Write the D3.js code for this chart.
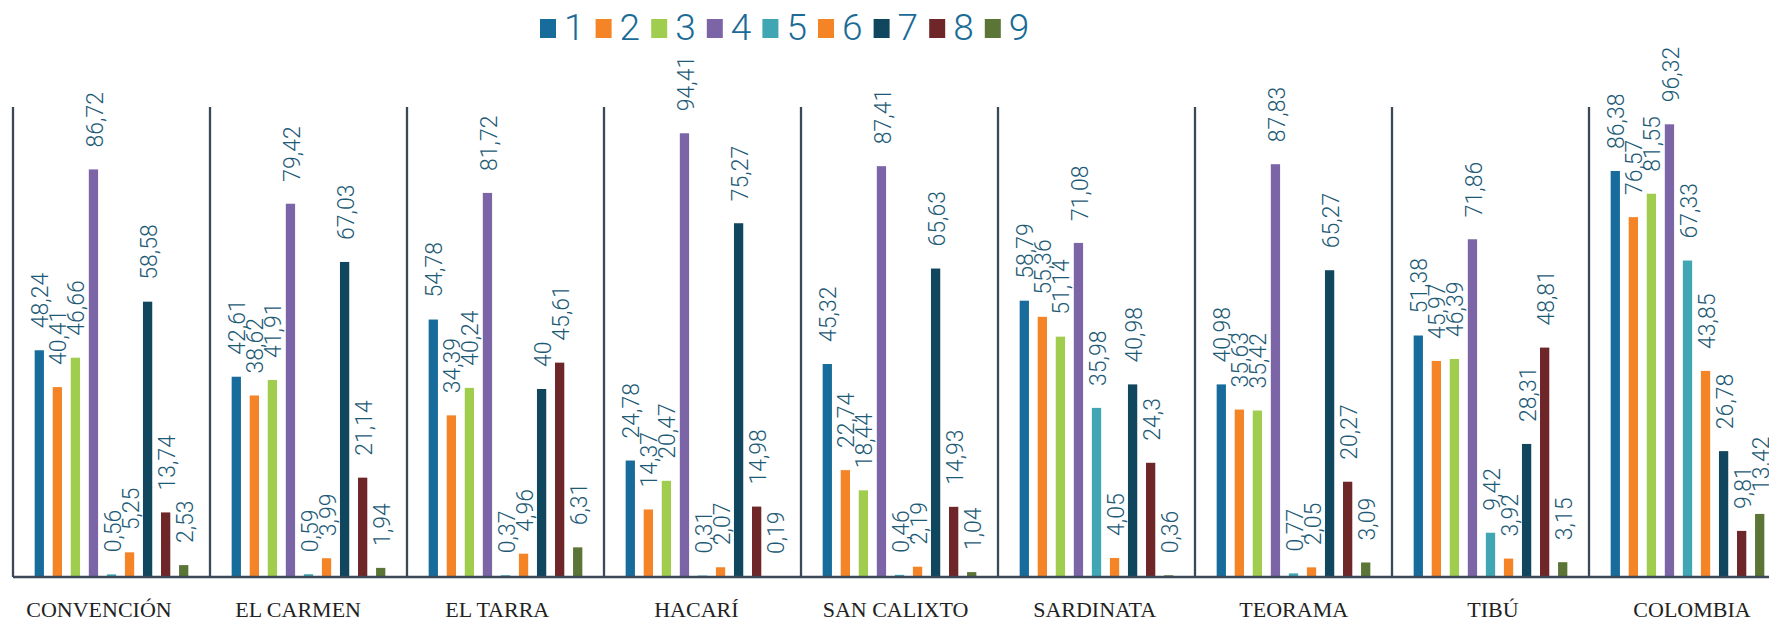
<!DOCTYPE html>
<html>
<head>
<meta charset="utf-8">
<script src="https://cdn.jsdelivr.net/npm/d3@7"></script>
<style>
  body { margin: 0; background: #fff; overflow: hidden; }
</style>
</head>
<body>
<div id="chart"></div>
<script>
// data
var categories = ["CONVENCIÓN", "EL CARMEN", "EL TARRA", "HACARÍ", "SAN CALIXTO", "SARDINATA", "TEORAMA", "TIBÚ", "COLOMBIA"];
var seriesNames = ["1", "2", "3", "4", "5", "6", "7", "8", "9"];
var s1 = [48.24, 42.61, 54.78, 24.78, 45.32, 58.79, 40.98, 51.38, 86.38];
var s2 = [40.41, 38.62, 34.39, 14.37, 22.74, 55.36, 35.63, 45.97, 76.57];
var s3 = [46.66, 41.91, 40.24, 20.47, 18.44, 51.14, 35.42, 46.39, 81.55];
var s4 = [86.72, 79.42, 81.72, 94.41, 87.41, 71.08, 87.83, 71.86, 96.32];
var s5 = [0.56, 0.59, 0.37, 0.31, 0.46, 35.98, 0.77, 9.42, 67.33];
var s6 = [5.25, 3.99, 4.96, 2.07, 2.19, 4.05, 2.05, 3.92, 43.85];
var s7 = [58.58, 67.03, 40, 75.27, 65.63, 40.98, 65.27, 28.31, 26.78];
var s8 = [13.74, 21.14, 45.61, 14.98, 14.93, 24.3, 20.27, 48.81, 9.81];
var s9 = [2.53, 1.94, 6.31, 0.19, 1.04, 0.36, 3.09, 3.15, 13.42];
var series = [s1, s2, s3, s4, s5, s6, s7, s8, s9];
var colors = ["#176c9b", "#f58427", "#a1cd4e", "#7c65a6", "#40a6b4", "#f58427", "#10475f", "#6f2628", "#5a7535"];

var width = 1769, height = 620;
var margin = {top: 107, left: 13, bottom: 577};
var groupW = 197;

var svg = d3.select("#chart")
  .append("svg")
  .attr("width", width)
  .attr("height", height);

// scales
var x0 = d3.scaleBand()
  .domain(categories)
  .range([margin.left, margin.left + groupW * categories.length]);

var x1 = d3.scaleBand()
  .domain(seriesNames)
  .range([0, groupW])
  .paddingInner(0.486)
  .paddingOuter(1.2);

var y = d3.scaleLinear()
  .domain([0, 100])
  .range([margin.bottom, margin.top]);

// labels sit on a slightly wider spacing than the groups
var xLab = d3.scalePoint()
  .domain(categories)
  .range([99, 1692]);

// bars
var rows = [];
categories.forEach(function(c, i) {
  seriesNames.forEach(function(s, j) {
    rows.push({cat: c, ser: s, value: series[j][i], color: colors[j]});
  });
});

svg.selectAll("rect.bar")
  .data(rows)
  .enter()
  .append("rect")
  .attr("class", "bar")
  .attr("x", d => x0(d.cat) + x1(d.ser))
  .attr("y", d => y(d.value))
  .attr("width", x1.bandwidth())
  .attr("height", d => y(0) - y(d.value))
  .attr("fill", d => d.color);

// value labels
svg.selectAll("text.val")
  .data(rows)
  .enter()
  .append("text")
  .attr("class", "val")
  .attr("transform", d => "translate(" + (x0(d.cat) + x1(d.ser) + x1.bandwidth() / 2 + 1) + "," + (y(d.value) - 22) + ") rotate(-90)")
  .attr("dy", "0.35em")
  .attr("font-family", "Roboto, sans-serif")
  .attr("font-weight", 300)
  .attr("font-size", 23)
  .attr("fill", "#1d5a76")
  .text(d => String(d.value).replace(".", ","));

// group separators
svg.selectAll("line.sep")
  .data(categories)
  .enter()
  .append("line")
  .attr("class", "sep")
  .attr("x1", d => x0(d))
  .attr("x2", d => x0(d))
  .attr("y1", y(100))
  .attr("y2", y(0))
  .attr("stroke", "#3b4858")
  .attr("stroke-width", 2.3);

// baseline
svg.append("line")
  .attr("x1", x0.range()[0])
  .attr("x2", x0.range()[1])
  .attr("y1", y(0))
  .attr("y2", y(0))
  .attr("stroke", "#3b4858")
  .attr("stroke-width", 2.5);

// category labels
svg.selectAll("text.cat")
  .data(categories)
  .enter()
  .append("text")
  .attr("class", "cat")
  .attr("x", d => xLab(d))
  .attr("y", 617)
  .attr("text-anchor", "middle")
  .attr("font-family", "'Liberation Serif', serif")
  .attr("font-size", 22)
  .attr("fill", "#222")
  .text(d => d);

// legend
var legend = svg.selectAll("g.leg")
  .data(seriesNames)
  .enter()
  .append("g")
  .attr("class", "leg")
  .attr("transform", (d, i) => "translate(" + (540 + i * 55.6) + ",0)");

legend.append("rect")
  .attr("x", 0)
  .attr("y", 19)
  .attr("width", 16)
  .attr("height", 19)
  .attr("fill", (d, i) => colors[i]);

legend.append("text")
  .attr("x", 24)
  .attr("y", 40)
  .attr("font-family", "Roboto, sans-serif")
  .attr("font-weight", 300)
  .attr("font-size", 37)
  .attr("fill", "#1a6b96")
  .text(d => d);
</script>
</body>
</html>
